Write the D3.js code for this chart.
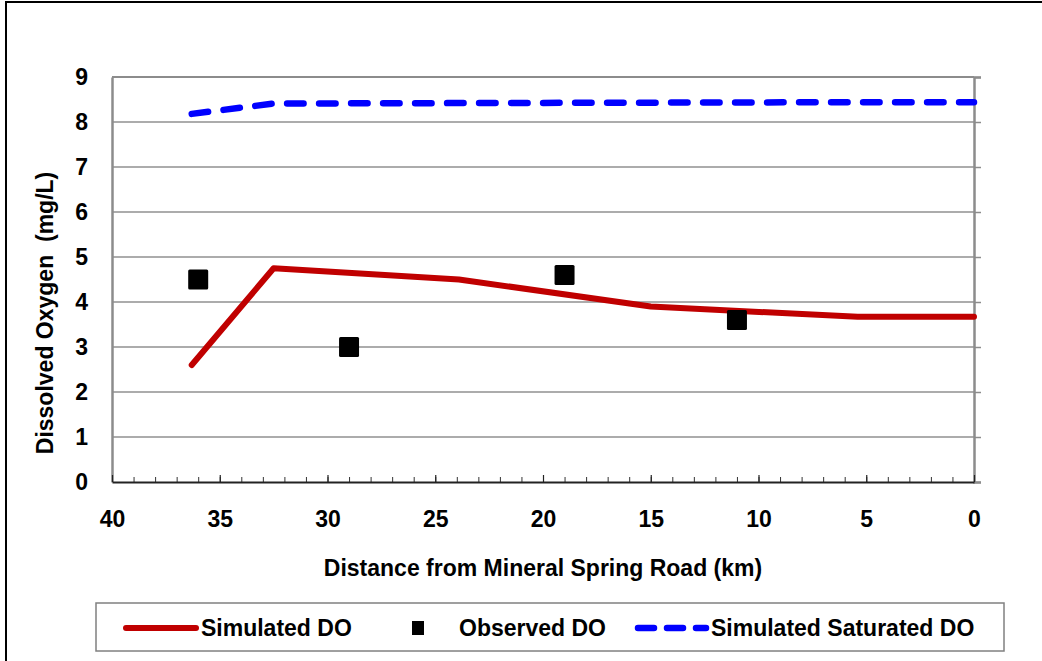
<!DOCTYPE html>
<html>
<head>
<meta charset="utf-8">
<script src="https://cdn.jsdelivr.net/npm/d3@7"></script>
<style>
  body { margin: 0; background: #fff; }
  svg text { font-family: "Liberation Sans", Arial, sans-serif; font-weight: bold; fill: #000; }
</style>
</head>
<body>
<div id="canvas"></div>
<script>
// Datos
const simKm = [36.3, 32.5, 23.9, 15.0, 5.4, 0];
const simDO = [2.6, 4.75, 4.5, 3.9, 3.67, 3.67];
const obsKm = [36, 29, 19, 11];
const obsDO = [4.5, 3.0, 4.6, 3.6];
const satKm = [36.3, 32.5, 24, 15, 5.4, 0];
const satDO = [8.18, 8.41, 8.42, 8.43, 8.44, 8.44];
const xTicks = [40, 35, 30, 25, 20, 15, 10, 5, 0];
const yTicks = [0, 1, 2, 3, 4, 5, 6, 7, 8, 9];

const width = 1042;
const height = 661;
const margin = {top: 77, left: 112, bottom: 179, right: 68};
const iwidth = width - margin.left - margin.right;
const iheight = height - margin.top - margin.bottom;
const fs = "23px";

const svg = d3.select("#canvas").append("svg")
    .attr("width", width)
    .attr("height", height);

// Marco exterior
svg.append("rect")
    .attr("x", 6).attr("y", 2)
    .attr("width", 1100).attr("height", 700)
    .attr("fill", "none")
    .attr("stroke", "#000")
    .attr("stroke-width", 2);

const g = svg.append("g").attr("transform", `translate(${margin.left}, ${margin.top})`);

const x = d3.scaleLinear().domain([40, 0]).range([0, iwidth]);
const y = d3.scaleLinear().domain([0, 9]).range([iheight, 0]);

// Lineas de cuadricula
g.append("g")
    .selectAll("line")
    .data(yTicks.filter(d => d > 0 && d < 9))
    .enter().append("line")
    .attr("x1", 0).attr("x2", iwidth)
    .attr("y1", d => y(d)).attr("y2", d => y(d))
    .attr("stroke", "#5a5a5a")
    .attr("stroke-width", 1.2);

// Borde superior y eje derecho
g.append("line")
    .attr("x1", 0).attr("x2", iwidth)
    .attr("y1", 0).attr("y2", 0)
    .attr("stroke", "#8c8c8c").attr("stroke-width", 2);

const right = g.append("g")
    .attr("transform", `translate(${iwidth}, 0)`)
    .call(d3.axisRight(y).tickValues(yTicks).tickSize(7).tickFormat(""));
right.select(".domain").attr("stroke", "#8c8c8c").attr("stroke-width", 2.5);
right.selectAll(".tick line").attr("stroke", "#8c8c8c").attr("stroke-width", 1.5);

// Eje y izquierdo
const left = g.append("g")
    .call(d3.axisLeft(y).tickValues(yTicks).tickSize(0).tickPadding(24));
left.select(".domain").attr("stroke", "#8c8c8c").attr("stroke-width", 2.5);
left.selectAll("text").style("font-size", fs);

// Eje x: marcas menores y mayores
const minor = g.append("g")
    .attr("transform", `translate(0, ${iheight})`)
    .call(d3.axisBottom(x).tickValues(d3.range(0, 41, 1)).tickSizeInner(-5).tickSizeOuter(0).tickFormat(""));
minor.select(".domain").remove();
minor.selectAll(".tick line").attr("stroke", "#333");

const bottom = g.append("g")
    .attr("transform", `translate(0, ${iheight})`)
    .call(d3.axisBottom(x).tickValues(xTicks).tickSizeInner(-7).tickSizeOuter(0).tickPadding(29));
bottom.select(".domain").attr("stroke", "#222").attr("stroke-width", 2);
bottom.selectAll(".tick line").attr("stroke", "#222").attr("stroke-width", 1.2);
bottom.selectAll("text").style("font-size", fs);

const satData = satKm.map((k, i) => ({k: k, v: satDO[i]}));
const simData = simKm.map((k, i) => ({k: k, v: simDO[i]}));
const obsData = obsKm.map((k, i) => ({k: k, v: obsDO[i]}));

const line = d3.line().x(d => x(d.k)).y(d => y(d.v));

// Serie de oxigeno saturado simulado
g.append("path")
    .datum(satData)
    .attr("d", line)
    .attr("fill", "none")
    .attr("stroke", "#0000ff")
    .attr("stroke-width", 6.5)
    .attr("stroke-linecap", "round")
    .attr("stroke-dasharray", "16.5 15.5");

// Serie de oxigeno disuelto simulado
g.append("path")
    .datum(simData)
    .attr("d", line)
    .attr("fill", "none")
    .attr("stroke", "#c00000")
    .attr("stroke-width", 6)
    .attr("stroke-linejoin", "round")
    .attr("stroke-linecap", "round");

// Observaciones
g.selectAll("rect.obs")
    .data(obsData)
    .enter().append("rect")
    .attr("class", "obs")
    .attr("x", d => x(d.k) - 10)
    .attr("y", d => y(d.v) - 10)
    .attr("width", 20).attr("height", 20)
    .attr("rx", 1.5)
    .attr("fill", "#000");

// Titulos de ejes
svg.append("text")
    .attr("text-anchor", "middle")
    .style("font-size", fs)
    .attr("x", 543)
    .attr("y", 576)
    .text("Distance from Mineral Spring Road (km)");

svg.append("text")
    .attr("text-anchor", "middle")
    .style("font-size", fs)
    .attr("transform", "translate(53, 313) rotate(-90)")
    .attr("xml:space", "preserve")
    .style("white-space", "pre")
    .text("Dissolved Oxygen  (mg/L)");

// Leyenda
const leg = svg.append("g");
leg.append("rect")
    .attr("x", 96).attr("y", 603)
    .attr("width", 908).attr("height", 48)
    .attr("fill", "#fff")
    .attr("stroke", "#808080")
    .attr("stroke-width", 1.5);

leg.append("line")
    .attr("x1", 126).attr("x2", 196)
    .attr("y1", 628).attr("y2", 628)
    .attr("stroke", "#c00000").attr("stroke-width", 6).attr("stroke-linecap", "round");
leg.append("text").attr("x", 201).attr("y", 636).style("font-size", fs).text("Simulated DO");

leg.append("rect")
    .attr("x", 412).attr("y", 621)
    .attr("width", 12).attr("height", 14)
    .attr("fill", "#000");
leg.append("text").attr("x", 459).attr("y", 636).style("font-size", fs).text("Observed DO");

leg.append("line")
    .attr("x1", 638).attr("x2", 706)
    .attr("y1", 628).attr("y2", 628)
    .attr("stroke", "#0000ff").attr("stroke-width", 6.5).attr("stroke-linecap", "round")
    .attr("stroke-dasharray", "16 13");
leg.append("text").attr("x", 711).attr("y", 636).style("font-size", fs).text("Simulated Saturated DO");
</script>
</body>
</html>
